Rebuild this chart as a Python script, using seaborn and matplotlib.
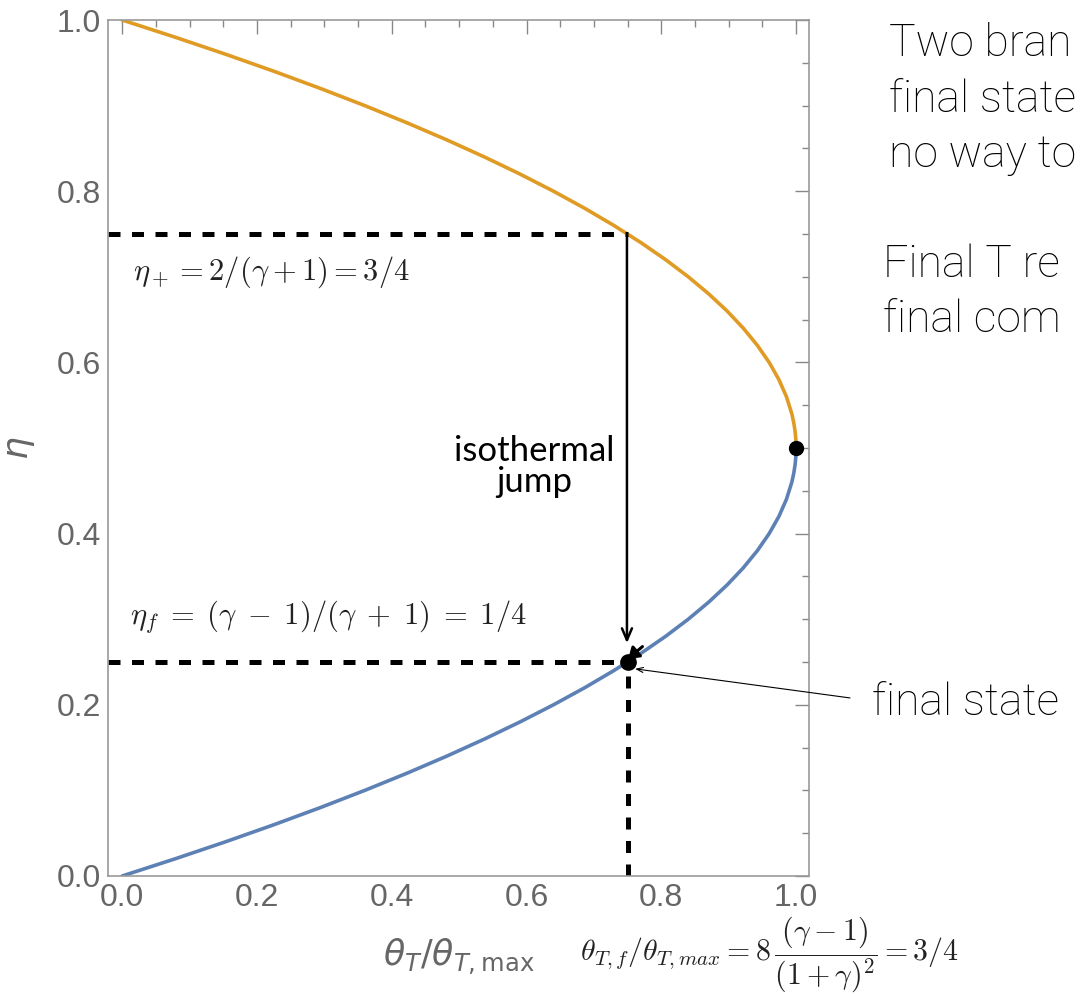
import numpy as np
import pandas as pd
import matplotlib
matplotlib.use("Agg")
import matplotlib.pyplot as plt
from matplotlib.ticker import MultipleLocator
import seaborn as sns

# Compression ratio eta against normalised temperature along both branches
eta_upper = [1.0, 0.98, 0.96, 0.94, 0.92, 0.9, 0.88, 0.86, 0.84, 0.82, 0.8,
             0.78, 0.76, 0.74, 0.72, 0.7, 0.68, 0.66, 0.64, 0.62, 0.6, 0.58,
             0.56, 0.54, 0.53, 0.52, 0.51, 0.505, 0.5]
theta_upper = [0.0, 0.0784, 0.1536, 0.2256, 0.2944, 0.36, 0.4224, 0.4816,
               0.5376, 0.5904, 0.64, 0.6864, 0.7296, 0.7696, 0.8064, 0.84,
               0.8704, 0.8976, 0.9216, 0.9424, 0.96, 0.9744, 0.9856, 0.9936,
               0.9964, 0.9984, 0.9996, 0.9999, 1.0]
eta_lower = [0.5, 0.495, 0.49, 0.48, 0.47, 0.46, 0.44, 0.42, 0.4, 0.38, 0.36,
             0.34, 0.32, 0.3, 0.28, 0.26, 0.24, 0.22, 0.2, 0.18, 0.16, 0.14,
             0.12, 0.1, 0.08, 0.06, 0.04, 0.02, 0.0]
theta_lower = [1.0, 0.9999, 0.9996, 0.9984, 0.9964, 0.9936, 0.9856, 0.9744,
               0.96, 0.9424, 0.9216, 0.8976, 0.8704, 0.84, 0.8064, 0.7696,
               0.7296, 0.6864, 0.64, 0.5904, 0.5376, 0.4816, 0.4224, 0.36,
               0.2944, 0.2256, 0.1536, 0.0784, 0.0]

eta_plus = 0.75
eta_final = 0.25
theta_final = 0.75
turning_point = (1.0, 0.5)

df = pd.DataFrame({
    "theta": theta_upper + theta_lower,
    "eta": eta_upper + eta_lower,
    "branch": ["upper"] * len(eta_upper) + ["lower"] * len(eta_lower),
})

sns.set_theme(style="white")
plt.rcParams["font.family"] = ["Liberation Sans", "DejaVu Sans"]

fig = plt.figure(figsize=(10.8, 9.96), dpi=100)
ax = fig.add_axes([0.1, 0.1205, 0.649, 0.8594])

sns.lineplot(data=df, x="theta", y="eta", hue="branch", sort=False,
             palette={"upper": "#E09B24", "lower": "#5E81B5"},
             linewidth=2.6, legend=False, ax=ax, estimator=None)

ax.set_xlim(-0.021, 1.019)
ax.set_ylim(0.0, 1.0)

# dashed guide lines to the final state
dash = dict(color="black", linewidth=3.6, linestyle=(0, (2.4, 2.3)),
            solid_capstyle="butt", dash_capstyle="butt")
ax.plot([-0.021, theta_final], [eta_plus, eta_plus], **dash)
ax.plot([-0.021, theta_final], [eta_final, eta_final], **dash)
ax.plot([theta_final, theta_final], [0.0, eta_final], **dash)

# isothermal jump arrow
ax.annotate("", xy=(0.749, 0.272), xytext=(0.749, 0.748),
            arrowprops=dict(arrowstyle="->,head_length=0.7,head_width=0.3",
                            color="black", lw=1.8, shrinkA=0, shrinkB=0))
ax.text(0.611, 0.478, "isothermal\njump", ha="center", va="center",
        fontsize=25, color="black", family=["Lato", "DejaVu Sans"],
        linespacing=0.95)

# small head pointing into the final state
ax.annotate("", xy=(0.751, 0.254), xytext=(0.772, 0.268),
            arrowprops=dict(arrowstyle="-|>,head_length=0.5,head_width=0.35",
                            color="black", lw=2.2, shrinkA=0, shrinkB=0))

ax.plot([theta_final], [eta_final], "o", color="black", markersize=11, zorder=5)
ax.plot([turning_point[0]], [turning_point[1]], "o", color="black",
        markersize=10, zorder=5, clip_on=False)

ax.text(0.016, 0.705, r"$\eta_+ = 2/(\gamma+1) = 3/4$", fontsize=22,
        color="#222222", math_fontfamily="cm", va="center")
ax.text(0.012, 0.303,
        r"$\eta_f \;=\; (\gamma \;-\; 1)/(\gamma \;+\; 1) \;=\; 1/4$",
        fontsize=22, color="#222222", math_fontfamily="cm", va="center")

# ticks in the framed style: inward, on all four sides
ax.xaxis.set_major_locator(MultipleLocator(0.2))
ax.xaxis.set_minor_locator(MultipleLocator(0.05))
ax.yaxis.set_major_locator(MultipleLocator(0.2))
ax.yaxis.set_minor_locator(MultipleLocator(0.05))
ax.tick_params(which="both", direction="in", top=True, right=True,
               color="#888888", width=1.0)
ax.tick_params(which="major", length=10, labelsize=23, labelcolor="#666666", pad=5)
ax.tick_params(which="minor", length=5)
ax.set_xticks([0.0, 0.2, 0.4, 0.6, 0.8, 1.0])
ax.set_xticklabels(["0.0", "0.2", "0.4", "0.6", "0.8", "1.0"])
ax.set_yticks([0.0, 0.2, 0.4, 0.6, 0.8, 1.0])
ax.set_yticklabels(["0.0", "0.2", "0.4", "0.6", "0.8", "1.0"])
for s in ax.spines.values():
    s.set_color("#999999")
    s.set_linewidth(1.2)

ax.set_xlabel("")
ax.set_ylabel(r"$\eta$", fontsize=26, color="#666666",
              math_fontfamily="dejavusans", labelpad=14)

fig.text(0.355, 0.039, r"$\theta_T/\theta_{T,\mathrm{max}}$", fontsize=25,
         color="#666666", math_fontfamily="dejavusans", va="center")
fig.text(0.537, 0.0425,
         r"$\theta_{T,f}/\theta_{T,max} = 8\,\dfrac{(\gamma-1)}{(1+\gamma)^2} = 3/4$",
         fontsize=21.5, color="#222222", math_fontfamily="cm", va="center")

# side notes
note = dict(fontsize=32, color="black", family=["Roboto", "DejaVu Sans"],
            fontweight="light", va="center")
fig.text(0.823, 0.956, "Two bran", **note)
fig.text(0.823, 0.900, "final state", **note)
fig.text(0.823, 0.845, "no way to", **note)
fig.text(0.818, 0.734, "Final T re", **note)
fig.text(0.818, 0.679, "final com", **note)
fig.text(0.807, 0.294, "final state", **note)

# pointer from the note to the final state
ax.annotate("", xy=(0.761, 0.242), xytext=(1.08, 0.208),
            xycoords="data", textcoords="data",
            arrowprops=dict(arrowstyle="->,head_length=0.4,head_width=0.15",
                            color="black", lw=0.8, shrinkA=0, shrinkB=0))

fig.savefig("out.png", dpi=100)
